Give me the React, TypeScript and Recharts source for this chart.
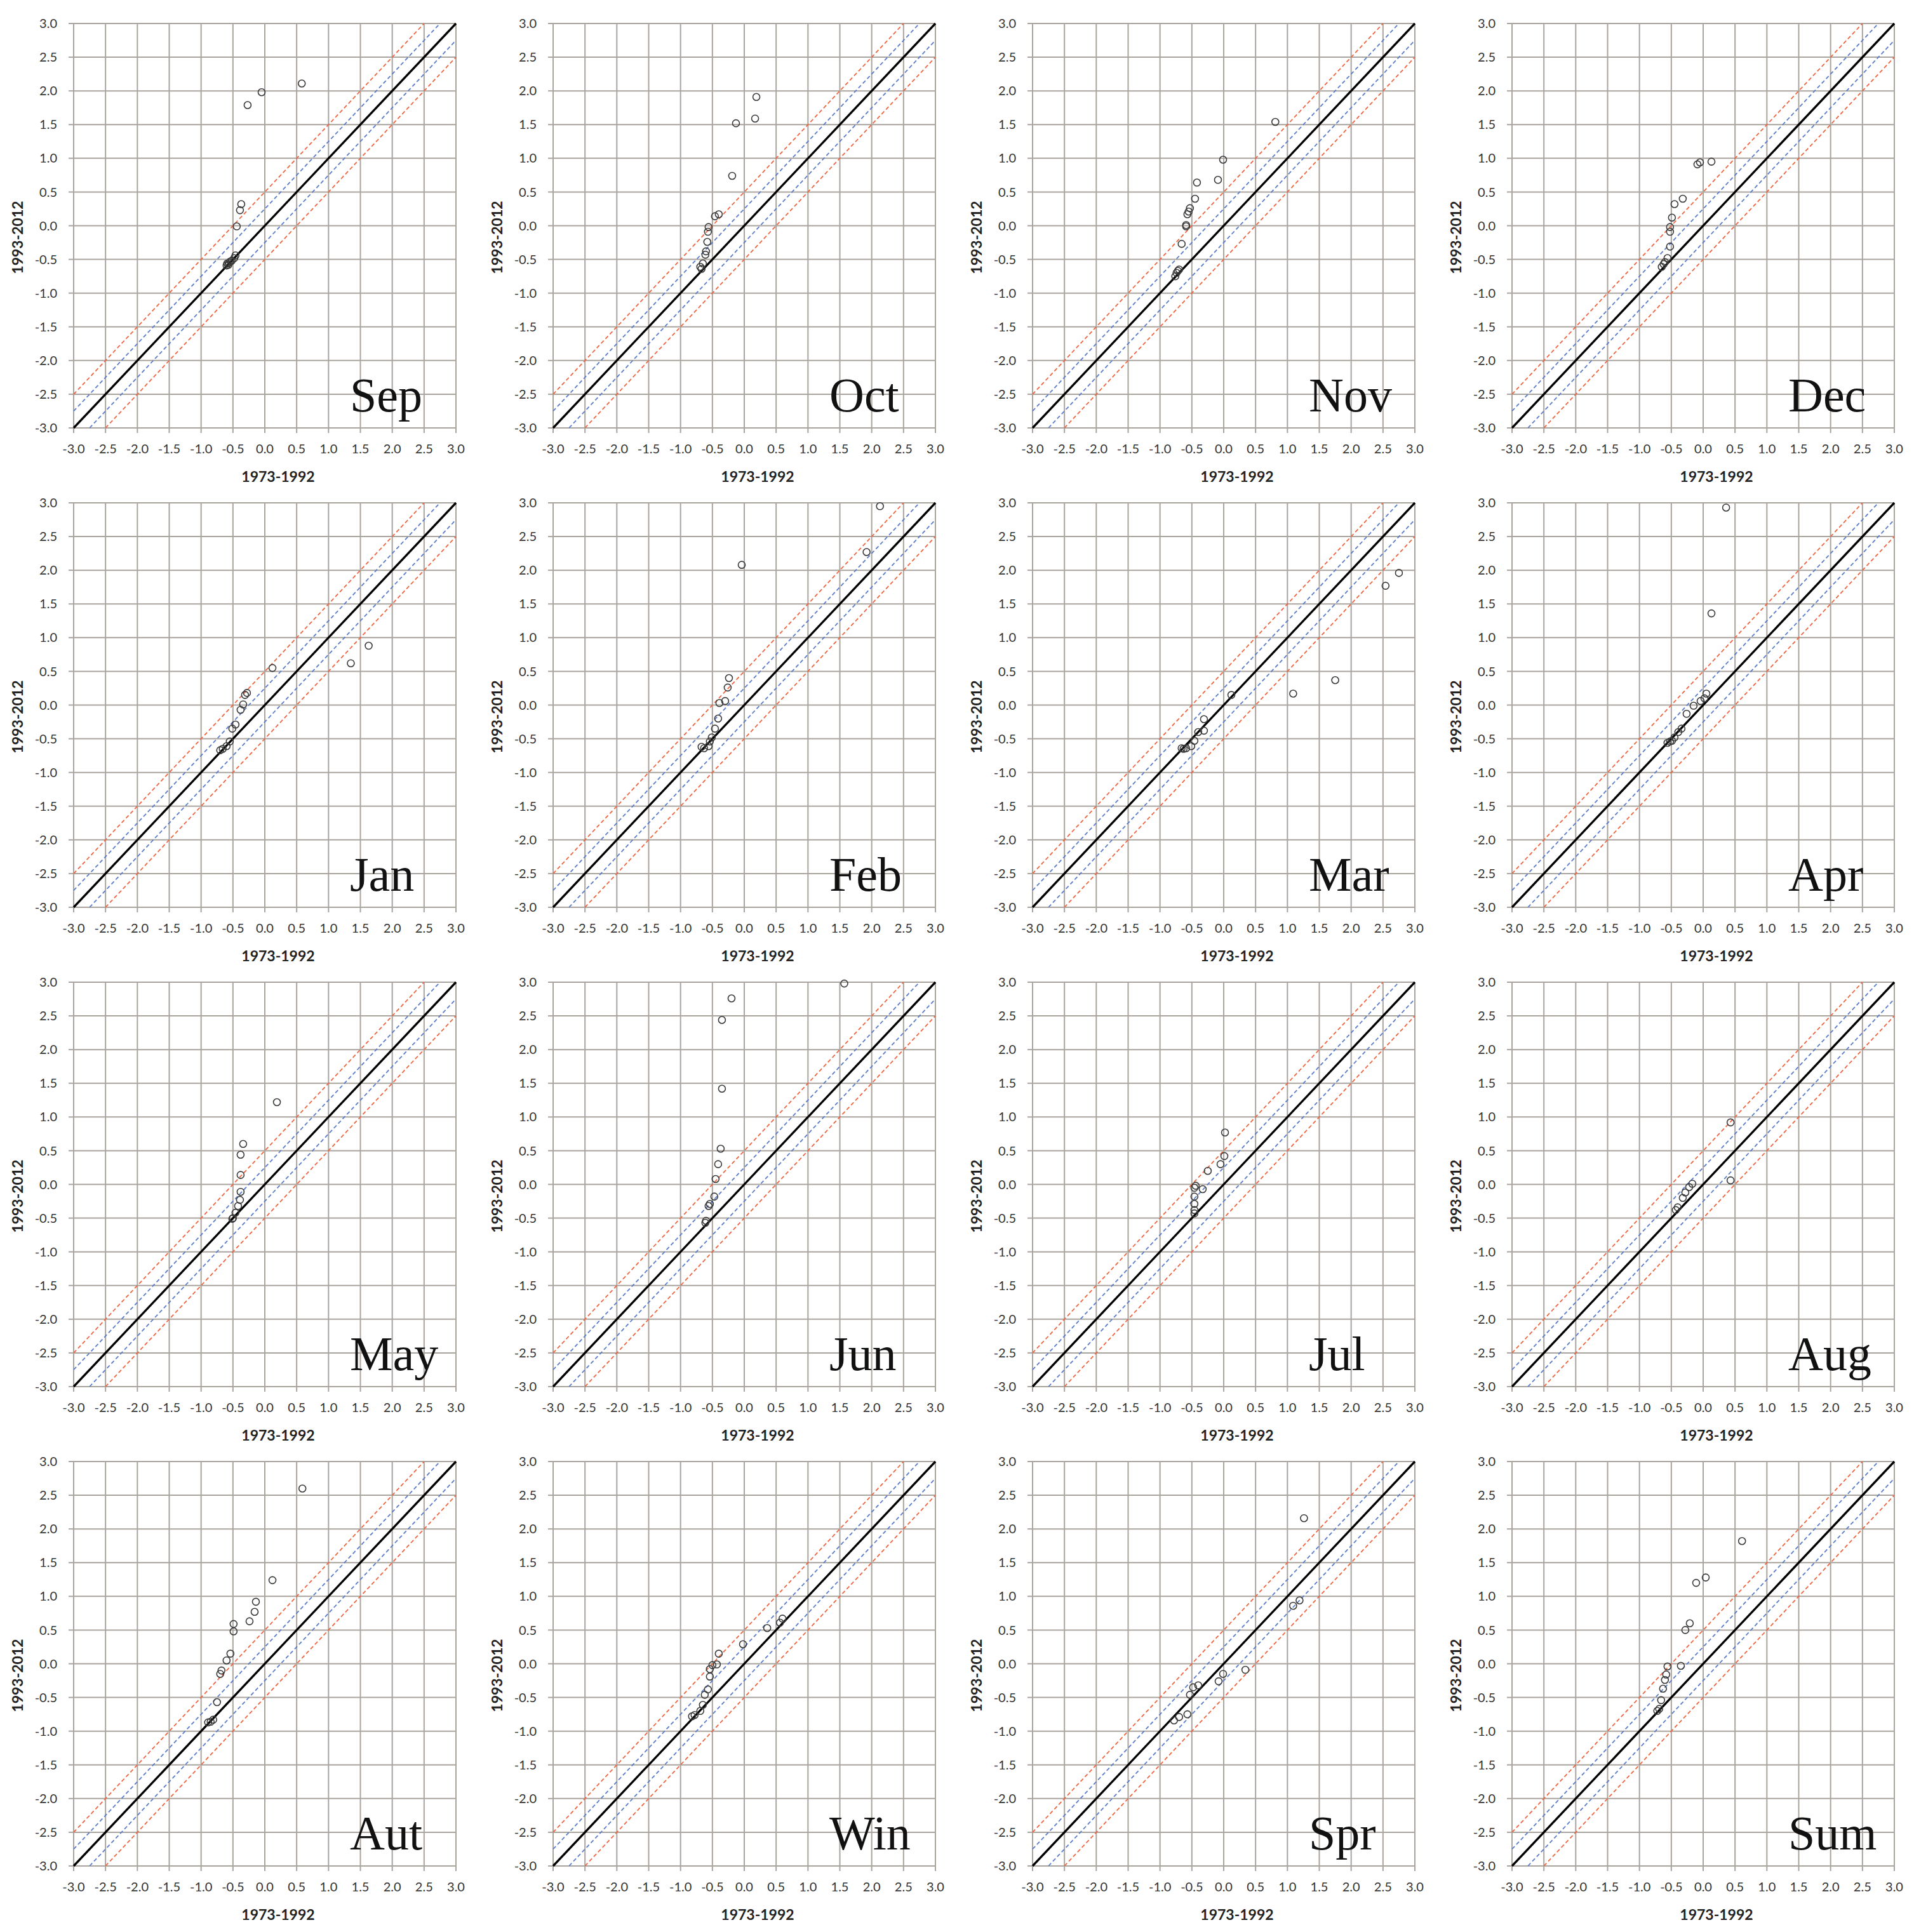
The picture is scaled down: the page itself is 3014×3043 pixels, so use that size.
import React from 'react';
import { ScatterChart, Scatter, XAxis, YAxis, CartesianGrid, Label } from 'recharts';

type Pt = [number, number];

const axisTicks = [-3, -2.5, -2, -1.5, -1, -0.5, 0, 0.5, 1, 1.5, 2, 2.5, 3];
const innerBand = 0.25;
const outerBand = 0.5;

// [1973-1992, 1993-2012]
const sep: Pt[] = [[-0.27, 1.79], [-0.05, 1.98], [0.58, 2.11], [-0.37, 0.32], [-0.39, 0.23], [-0.44, -0.01], [-0.46, -0.44], [-0.48, -0.48], [-0.59, -0.56], [-0.56, -0.55], [-0.54, -0.53], [-0.57, -0.58], [-0.6, -0.59], [-0.52, -0.52]];
const oct: Pt[] = [[0.19, 1.91], [0.17, 1.59], [-0.13, 1.52], [-0.19, 0.74], [-0.4, 0.17], [-0.46, 0.14], [-0.56, -0.02], [-0.57, -0.09], [-0.58, -0.24], [-0.6, -0.38], [-0.61, -0.43], [-0.65, -0.56], [-0.67, -0.64], [-0.69, -0.61]];
const nov: Pt[] = [[0.81, 1.54], [-0.01, 0.98], [-0.09, 0.68], [-0.42, 0.64], [-0.45, 0.4], [-0.53, 0.26], [-0.55, 0.21], [-0.57, 0.17], [-0.59, 0.01], [-0.59, -0.01], [-0.66, -0.27], [-0.7, -0.65], [-0.74, -0.7], [-0.76, -0.75], [-0.72, -0.67]];
const dec: Pt[] = [[0.13, 0.95], [-0.05, 0.94], [-0.09, 0.91], [-0.32, 0.4], [-0.45, 0.32], [-0.49, 0.12], [-0.52, -0.02], [-0.52, -0.09], [-0.52, -0.31], [-0.56, -0.48], [-0.6, -0.54], [-0.65, -0.61], [-0.62, -0.57]];
const jan: Pt[] = [[1.63, 0.88], [1.35, 0.62], [0.12, 0.55], [-0.28, 0.18], [-0.31, 0.15], [-0.34, 0.01], [-0.38, -0.07], [-0.46, -0.29], [-0.51, -0.35], [-0.55, -0.54], [-0.6, -0.61], [-0.66, -0.65], [-0.7, -0.67]];
const feb: Pt[] = [[2.13, 2.95], [1.92, 2.27], [-0.04, 2.08], [-0.24, 0.4], [-0.26, 0.26], [-0.3, 0.06], [-0.39, 0.03], [-0.41, -0.2], [-0.46, -0.35], [-0.51, -0.48], [-0.54, -0.54], [-0.56, -0.61], [-0.63, -0.64], [-0.67, -0.62]];
const mar: Pt[] = [[2.75, 1.96], [2.54, 1.77], [1.75, 0.37], [1.09, 0.17], [0.12, 0.15], [-0.31, -0.21], [-0.31, -0.38], [-0.4, -0.4], [-0.46, -0.53], [-0.51, -0.61], [-0.59, -0.64], [-0.66, -0.64], [-0.63, -0.65]];
const apr: Pt[] = [[0.36, 2.93], [0.13, 1.36], [0.05, 0.17], [0.02, 0.1], [-0.04, 0.06], [-0.15, -0.01], [-0.26, -0.13], [-0.34, -0.35], [-0.39, -0.4], [-0.45, -0.48], [-0.52, -0.54], [-0.56, -0.56], [-0.49, -0.53]];
const may: Pt[] = [[0.19, 1.22], [-0.34, 0.6], [-0.38, 0.44], [-0.38, 0.14], [-0.38, -0.11], [-0.39, -0.23], [-0.42, -0.32], [-0.46, -0.42], [-0.5, -0.5], [-0.51, -0.51]];
const jun: Pt[] = [[1.57, 2.98], [-0.2, 2.76], [-0.35, 2.44], [-0.35, 1.42], [-0.37, 0.53], [-0.41, 0.3], [-0.45, 0.08], [-0.47, -0.18], [-0.54, -0.29], [-0.56, -0.32], [-0.6, -0.54], [-0.61, -0.57]];
const jul: Pt[] = [[0.02, 0.77], [0.01, 0.42], [-0.05, 0.3], [-0.25, 0.2], [-0.33, -0.07], [-0.44, -0.02], [-0.46, -0.05], [-0.46, -0.18], [-0.46, -0.29], [-0.46, -0.38], [-0.46, -0.43]];
const aug: Pt[] = [[0.43, 0.92], [0.43, 0.06], [-0.17, 0.01], [-0.22, -0.04], [-0.28, -0.12], [-0.32, -0.2], [-0.4, -0.34], [-0.43, -0.38]];
const aut: Pt[] = [[0.59, 2.6], [0.12, 1.24], [-0.14, 0.92], [-0.16, 0.77], [-0.24, 0.63], [-0.49, 0.59], [-0.49, 0.48], [-0.54, 0.15], [-0.6, 0.05], [-0.68, -0.1], [-0.7, -0.15], [-0.75, -0.57], [-0.85, -0.86], [-0.89, -0.87], [-0.81, -0.83]];
const win: Pt[] = [[0.6, 0.67], [0.56, 0.61], [0.36, 0.53], [-0.02, 0.29], [-0.4, 0.15], [-0.43, -0.01], [-0.5, -0.02], [-0.54, -0.08], [-0.54, -0.19], [-0.57, -0.38], [-0.62, -0.46], [-0.65, -0.61], [-0.69, -0.7], [-0.78, -0.76], [-0.82, -0.78]];
const spr: Pt[] = [[1.26, 2.16], [1.19, 0.94], [1.09, 0.86], [0.34, -0.09], [-0.01, -0.15], [-0.08, -0.26], [-0.4, -0.32], [-0.48, -0.35], [-0.53, -0.46], [-0.57, -0.75], [-0.7, -0.79], [-0.78, -0.84]];
const sum: Pt[] = [[0.61, 1.82], [0.04, 1.28], [-0.11, 1.2], [-0.21, 0.6], [-0.28, 0.5], [-0.35, -0.03], [-0.56, -0.04], [-0.58, -0.16], [-0.6, -0.24], [-0.63, -0.37], [-0.66, -0.54], [-0.69, -0.67], [-0.72, -0.7]];

const panels = [
  { name: 'Sep', points: sep }, { name: 'Oct', points: oct }, { name: 'Nov', points: nov }, { name: 'Dec', points: dec },
  { name: 'Jan', points: jan }, { name: 'Feb', points: feb }, { name: 'Mar', points: mar }, { name: 'Apr', points: apr },
  { name: 'May', points: may }, { name: 'Jun', points: jun }, { name: 'Jul', points: jul }, { name: 'Aug', points: aug },
  { name: 'Aut', points: aut }, { name: 'Win', points: win }, { name: 'Spr', points: spr }, { name: 'Sum', points: sum },
];

// y = x + o, clipped to the [-3, 3] box
const shifted = (o: number) =>
  o >= 0 ? [{ x: -3, y: -3 + o }, { x: 3 - o, y: 3 }] : [{ x: -3 - o, y: -3 }, { x: 3, y: 3 + o }];

const GRID = '#aaa49f';
const RED = '#ee6640';
const BLUE = '#5a7dcb';
const SANS = 'Lato, "DejaVu Sans", sans-serif';

const tickStyle = { fontSize: 20, fill: '#333', fontFamily: SANS };
const boldLabel = { fontSize: 23, fontWeight: 700, fill: '#222', fontFamily: SANS };
const fmt = (v: number) => v.toFixed(1);
const noDot = () => <g />;
const Ring = (p: any) => <circle cx={p.cx} cy={p.cy} r={5.5} fill="none" stroke="#3a3a3a" strokeWidth={1.6} />;

const W = 755;
const H = 770;

const Panel = ({ name, points }: { name: string; points: Pt[] }) => {
  const data = points.map(([x, y]) => ({ x, y }));
  return (
    <div style={{ position: 'relative', width: W, height: H }}>
      <ScatterChart width={W} height={H} margin={{ top: 37, right: 37, bottom: 15, left: 0 }}>
        <CartesianGrid stroke={GRID} strokeWidth={2} />
        <XAxis
          type="number" dataKey="x" domain={[-3, 3]} ticks={axisTicks} interval={0}
          tickFormatter={fmt} tick={tickStyle} tickLine={{ stroke: GRID, strokeWidth: 2 }}
          tickSize={8} tickMargin={18} axisLine={false} height={81}
        >
          <Label content={() => <text x={438} y={759} textAnchor="middle" style={boldLabel}>1973-1992</text>} />
        </XAxis>
        <YAxis
          type="number" dataKey="y" domain={[-3, 3]} ticks={axisTicks} interval={0}
          tickFormatter={fmt} tick={tickStyle} tickLine={{ stroke: GRID, strokeWidth: 2 }}
          tickSize={8} tickMargin={18} axisLine={false} width={116}
        >
          <Label
            content={() => (
              <text x={27} y={374} transform="rotate(-90 27 374)" textAnchor="middle" dominantBaseline="central" style={boldLabel}>
                1993-2012
              </text>
            )}
          />
        </YAxis>
        <Scatter data={shifted(outerBand)} line={{ stroke: RED, strokeWidth: 1.8, strokeDasharray: '6 4' }} shape={noDot} isAnimationActive={false} />
        <Scatter data={shifted(-outerBand)} line={{ stroke: RED, strokeWidth: 1.8, strokeDasharray: '6 4' }} shape={noDot} isAnimationActive={false} />
        <Scatter data={shifted(innerBand)} line={{ stroke: BLUE, strokeWidth: 1.8, strokeDasharray: '6 4' }} shape={noDot} isAnimationActive={false} />
        <Scatter data={shifted(-innerBand)} line={{ stroke: BLUE, strokeWidth: 1.8, strokeDasharray: '6 4' }} shape={noDot} isAnimationActive={false} />
        <Scatter data={shifted(0)} line={{ stroke: '#000', strokeWidth: 3.3 }} shape={noDot} isAnimationActive={false} />
        <Scatter data={data} shape={Ring} isAnimationActive={false} />
      </ScatterChart>
      <svg width={W} height={H} style={{ position: 'absolute', left: 0, top: 0, pointerEvents: 'none' }}>
        <text x={551} y={648} style={{ fontSize: 76, fontFamily: '"Liberation Serif", "Times New Roman", serif', fill: '#111' }}>
          {name}
        </text>
      </svg>
    </div>
  );
};

export default function App() {
  return (
    <div style={{ position: 'absolute', left: 0, top: 0, width: 3014, height: 3043, overflow: 'hidden', background: '#fff' }}>
      {panels.map((p, i) => (
        <div key={p.name} style={{ position: 'absolute', left: (i % 4) * 755, top: Math.floor(i / 4) * 755 }}>
          <Panel name={p.name} points={p.points} />
        </div>
      ))}
    </div>
  );
}
